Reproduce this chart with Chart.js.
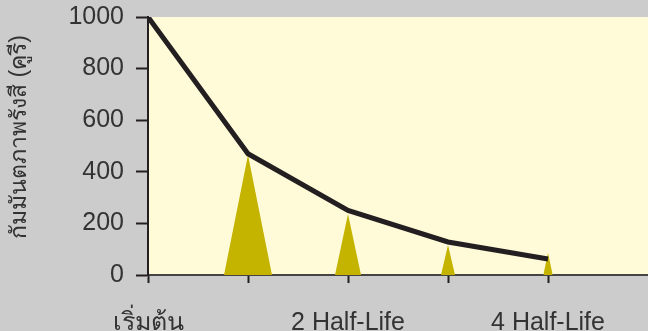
<!DOCTYPE html>
<html>
<head>
<meta charset="utf-8">
<script src="https://cdn.jsdelivr.net/npm/chart.js@4/dist/chart.umd.min.js"></script>
<style>
    html, body { margin: 0; padding: 0; background: #cccccc; }
    #wrap { width: 648px; height: 331px; }
</style>
</head>
<body>
<div id="wrap"><canvas id="decayChart"></canvas></div>
<script>
// Values
const stepLabels = ['เริ่มต้น', '', '2 Half-Life', '', '4 Half-Life'];
const steps = [0, 1, 2, 3, 4];
const activity = [1000, 470, 250, 128, 62];
const yTicks = [0, 200, 400, 600, 800, 1000];
const yTitle = 'กัมมันตภาพรังสี (คูรี)';

// yellow peaks at steps 1..4: height (Ci) and half base width (in steps)
const peakSteps = [1, 2, 3, 4];
const peakHeights = [465, 236, 116, 85];
const peakHalfWidths = [0.24, 0.13, 0.07, 0.047];

const textColor = '#333333';
const inkColor = '#231f20';
const peakColor = '#c4b400';
const plotBg = '#fffad8';
const fontFamily = '"Liberation Sans", Arial, sans-serif';

const plotBackground = {
    id: 'plotBackground',
    beforeDraw(chart) {
        const a = chart.chartArea;
        const ctx = chart.ctx;
        ctx.save();
        ctx.fillStyle = plotBg;
        ctx.fillRect(a.left, a.top, a.right - a.left, a.bottom - a.top);
        ctx.restore();
    }
};

// rotated y title, sits a little above the plot centre like the original
const yAxisTitle = {
    id: 'yAxisTitle',
    afterDraw(chart) {
        const ctx = chart.ctx;
        ctx.save();
        ctx.translate(20, 137);
        ctx.rotate(-Math.PI / 2);
        ctx.fillStyle = textColor;
        ctx.font = '23px ' + fontFamily;
        ctx.textAlign = 'center';
        ctx.textBaseline = 'middle';
        ctx.fillText(yTitle, 0, 0);
        ctx.restore();
    }
};

const peakDatasets = peakSteps.map((s, i) => ({
    type: 'line',
    data: [
        { x: s - peakHalfWidths[i], y: 0 },
        { x: s, y: peakHeights[i] },
        { x: s + peakHalfWidths[i], y: 0 }
    ],
    borderWidth: 0,
    pointRadius: 0,
    tension: 0,
    fill: 'origin',
    backgroundColor: peakColor,
    order: 2
}));

new Chart(document.getElementById('decayChart'), {
    type: 'line',
    data: {
        datasets: [
            {
                data: steps.map((s, i) => ({ x: s, y: activity[i] })),
                borderColor: inkColor,
                borderWidth: 5,
                pointRadius: 0,
                tension: 0,
                fill: false,
                order: 1
            },
            ...peakDatasets
        ]
    },
    options: {
        responsive: true,
        maintainAspectRatio: false,
        animation: false,
        layout: { padding: { top: 17, right: 0, left: 0, bottom: 0 } },
        plugins: {
            legend: { display: false },
            tooltip: { enabled: false }
        },
        scales: {
            x: {
                type: 'linear',
                min: 0,
                max: 5,
                afterBuildTicks: scale => {
                    scale.ticks = steps.map(v => ({ value: v }));
                },
                afterFit: scale => {
                    scale.height = 56;
                    scale.paddingLeft = 0;
                    scale.paddingRight = 0;
                },
                grid: {
                    drawOnChartArea: false,
                    drawTicks: true,
                    tickLength: 8,
                    tickColor: inkColor,
                    tickWidth: 2
                },
                border: { color: '#444444', width: 2 },
                ticks: {
                    color: textColor,
                    font: { family: fontFamily, size: 25 },
                    padding: 25,
                    maxRotation: 0,
                    autoSkip: false,
                    callback: value => stepLabels[value] ?? ''
                }
            },
            y: {
                min: 0,
                max: 1000,
                afterBuildTicks: scale => {
                    scale.ticks = yTicks.map(v => ({ value: v }));
                },
                afterFit: scale => {
                    scale.width = 148;
                    scale.paddingTop = 0;
                    scale.paddingBottom = 0;
                },
                grid: {
                    drawOnChartArea: false,
                    tickLength: 12,
                    tickColor: inkColor,
                    tickWidth: 2
                },
                border: { color: inkColor, width: 2 },
                ticks: {
                    color: textColor,
                    font: { family: fontFamily, size: 25 },
                    padding: 12,
                    callback: value => String(value)
                }
            }
        }
    },
    plugins: [plotBackground, yAxisTitle]
});
</script>
</body>
</html>
